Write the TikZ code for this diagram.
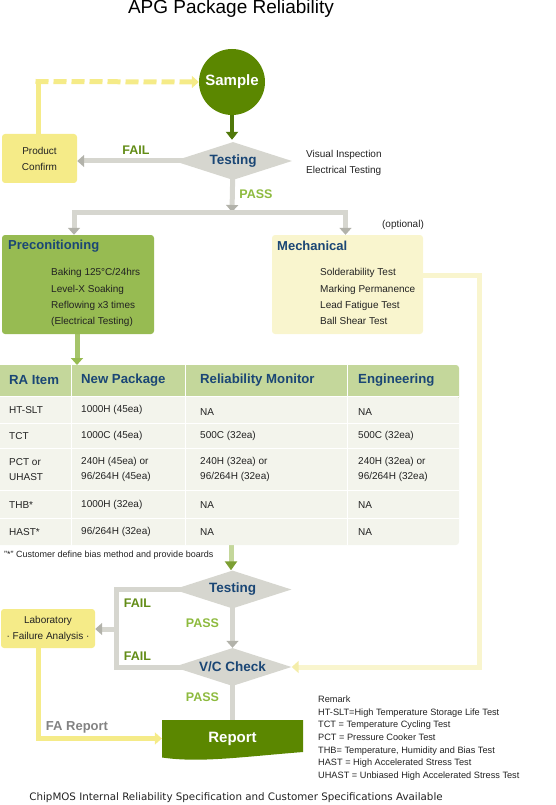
\documentclass[tikz,border=0pt]{standalone}
\usepackage{fontspec}
\setmainfont{Liberation Sans}
\newfontfamily\capfont{DejaVu Sans}
\usetikzlibrary{arrows.meta,shapes.geometric,backgrounds}

\definecolor{leafgreen}{RGB}{91,135,0}
\definecolor{stemgreen}{RGB}{80,120,10}
\definecolor{diagray}{RGB}{214,214,207}
\definecolor{headgray}{RGB}{178,178,170}
\definecolor{navy}{RGB}{26,70,117}
\definecolor{failgreen}{RGB}{98,140,22}
\definecolor{passgreen}{RGB}{141,186,62}
\definecolor{boxyellow}{RGB}{245,235,136}
\definecolor{paleyellow}{RGB}{249,245,206}
\definecolor{paletip}{RGB}{244,237,170}
\definecolor{precongreen}{RGB}{151,187,82}
\definecolor{arrowgreen}{RGB}{165,196,106}
\definecolor{headgreen}{RGB}{196,215,155}
\definecolor{bodygray}{RGB}{243,244,236}
\definecolor{textgray}{RGB}{34,34,34}
\definecolor{reportgray}{RGB}{130,130,130}

\newcommand{\fsz}[2]{\fontsize{#1}{#2}\selectfont}

\begin{document}
\begin{tikzpicture}[x=1pt,y=-1pt,
  txt/.style={inner sep=0pt, text=textgray, font=\fsz{10}{16.3}, align=left},
  notebox/.style={fill=boxyellow, rounded corners=3pt, inner sep=0pt, text=textgray, font=\fsz{10}{16}, align=center},
  decision/.style={shape=diamond, fill=diagray, aspect=3.1, minimum width=118pt, minimum height=38pt, inner sep=0pt, text=navy, font=\bfseries\fsz{13.5}{16}},
  boxtitle/.style={inner sep=0pt, text=navy, font=\bfseries\fsz{13}{16}},
  colhead/.style={anchor=west, inner sep=0pt, text=navy, font=\bfseries\fsz{13.2}{16}},
  cell/.style={txt, anchor=west, font=\fsz{10}{15.6}},
  failtxt/.style={inner sep=0pt, text=failgreen, font=\bfseries\fsz{12.5}{15}},
  passtxt/.style={inner sep=0pt, text=passgreen, font=\bfseries\fsz{12.5}{15}},
  grayline/.style={draw=diagray, line width=5pt},
  grayarrow/.style={grayline, -{Triangle[width=12pt,length=7pt,color=headgray]}},
  graybranch/.style={grayline, {Triangle[width=12pt,length=7pt,color=headgray]}-{Triangle[width=12pt,length=7pt,color=headgray]}},
  yellowarrow/.style={draw=boxyellow, line width=5pt, -{Triangle[width=12pt,length=7pt]}},
  palearrow/.style={draw=paleyellow, line width=5pt, -{Triangle[width=12pt,length=7pt,color=paletip]}}]

  \useasboundingbox (0,0) rectangle (555,805);

  % Title
  \node[inner sep=0pt, font=\fsz{19}{22}] (title) at (231,9) {APG Package Reliability};

  % Sample and first test
  \node[circle, fill=leafgreen, minimum size=66pt, inner sep=0pt, text=white, font=\bfseries\fsz{15}{18}] (sample) at (232,82) {Sample};
  \node[decision] (test1) at (233,161) {Testing};
  \node[notebox, minimum width=75pt, minimum height=49pt] (confirm) at (39.5,158.5) {Product\\Confirm};
  \node[txt, anchor=north west, font=\fsz{10}{16}] (testnote) at (306,150.3) {Visual Inspection\\Electrical Testing};
  \node[failtxt] (fail1) at (136,150) {FAIL};
  \node[passtxt] (pass1) at (256,194) {PASS};

  \coordinate (dashcorner) at (38,81.5);
  \coordinate (split) at (232,212);
  \coordinate (splitL) at (74,212);
  \coordinate (splitR) at (345.5,212);

  % Preconditioning box
  \node[fill=precongreen, rounded corners=3pt, minimum width=152pt, minimum height=99pt, inner sep=0pt] (precon) at (78,284.5) {};
  \node[boxtitle, anchor=west] (precontitle) at (8,246) {Preconitioning};
  \node[txt, anchor=north west] (preconlist) at (51,268.3) {Baking 125°C/24hrs\\Level-X Soaking\\Reflowing x3 times\\(Electrical Testing)};

  % Mechanical box
  \node[fill=paleyellow, rounded corners=3pt, minimum width=151pt, minimum height=99pt, inner sep=0pt] (mech) at (347.5,284.5) {};
  \node[boxtitle, anchor=west] (mechtitle) at (277,246) {Mechanical};
  \node[txt, anchor=north west] (mechlist) at (320,268.3) {Solderability Test\\Marking Permanence\\Lead Fatigue Test\\Ball Shear Test};
  \node[txt] (optional) at (403,225) {(optional)};

  % RA table
  \fill[headgreen, rounded corners=3pt] (-5,365) rectangle (459,400);
  \fill[bodygray, rounded corners=3pt] (-5,396) rectangle (459,545);
  \foreach \cx in {71,185.7,347}
    \draw[white, line width=1pt] (\cx,365) -- (\cx,545);
  \foreach \ry in {396,423.3,448.3,490,518.3}
    \draw[white, line width=1pt] (0,\ry) -- (459,\ry);
  \coordinate (tabletop) at (77,365);
  \coordinate (tablebottom) at (231,545);

  \node[colhead] (h1) at (9,380.5) {RA Item};
  \node[colhead] (h2) at (81,380.5) {New Package};
  \node[colhead] (h3) at (200,380.5) {Reliability Monitor};
  \node[colhead] (h4) at (358,380.5) {Engineering};

  \node[cell] (a1) at (9,410) {HT-SLT};
  \node[cell] (b1) at (81,410) {1000H (45ea)};
  \node[cell] (c1) at (200,412) {NA};
  \node[cell] (d1) at (358,412) {NA};

  \node[cell] (a2) at (9,436) {TCT};
  \node[cell] (b2) at (81,436) {1000C (45ea)};
  \node[cell] (c2) at (200,436) {500C (32ea)};
  \node[cell] (d2) at (358,436) {500C (32ea)};

  \node[cell] (a3) at (9,469.5) {PCT or\\UHAST};
  \node[cell] (b3) at (81,469.5) {240H (45ea) or\\96/264H (45ea)};
  \node[cell] (c3) at (200,469.5) {240H (32ea) or\\96/264H (32ea)};
  \node[cell] (d3) at (358,469.5) {240H (32ea) or\\96/264H (32ea)};

  \node[cell] (a4) at (9,505) {THB*};
  \node[cell] (b4) at (81,505) {1000H (32ea)};
  \node[cell] (c4) at (200,505) {NA};
  \node[cell] (d4) at (358,505) {NA};

  \node[cell] (a5) at (9,532.3) {HAST*};
  \node[cell] (b5) at (81,532.3) {96/264H (32ea)};
  \node[cell] (c5) at (200,532.3) {NA};
  \node[cell] (d5) at (358,532.3) {NA};

  \node[txt, anchor=west, font=\fsz{9}{11}] (footnote) at (4,555) {"*" Customer define bias method and provide boards};

  % Second test and V/C check
  \node[decision] (test2) at (232.5,589.5) {Testing};
  \node[decision] (vc) at (232.5,667) {V/C Check};
  \node[notebox, minimum width=94pt, minimum height=39pt] (lab) at (48,628.5) {Laboratory\\· Failure Analysis ·};
  \node[failtxt] (fail2) at (137.5,603) {FAIL};
  \node[failtxt] (fail3) at (137.5,656) {FAIL};
  \node[passtxt] (pass2) at (202.5,623) {PASS};
  \node[passtxt] (pass3) at (202.5,697) {PASS};
  \node[inner sep=0pt, text=reportgray, font=\bfseries\fsz{13}{16}] (fareport) at (77,727) {FA Report};
  \coordinate (failjoin) at (116,629);
  \coordinate (labout) at (38,648);
  \coordinate (mechout) at (423,275);
  \coordinate (rightturn) at (479,667);

  % Report
  \fill[leafgreen] (162,720) -- (303,720) -- (303,752) .. controls (240,757) and (200,763) .. (162,757.5) -- cycle;
  \node[minimum width=141pt, inner sep=0pt, text=white, font=\bfseries\fsz{15}{18}] (report) at (232.5,738.5) {Report};

  % Remarks and caption
  \node[txt, anchor=north west, font=\fsz{9.2}{12.7}] (remark) at (318,695.5) {Remark\\HT-SLT=High Temperature Storage Life Test\\TCT = Temperature Cycling Test\\PCT = Pressure Cooker Test\\THB= Temperature, Humidity and Bias Test\\HAST = High Accelerated Stress Test\\UHAST = Unbiased High Accelerated Stress Test};
  \node[inner sep=0pt, text=textgray, font=\capfont\fsz{10.3}{12}] (caption) at (236,798) {ChipMOS Internal Reliability Specification and Customer Specifications Available};

  % Connectors
  \begin{scope}[on background layer]
    \draw[boxyellow, line width=5pt] (dashcorner |- confirm.north) -- (dashcorner);
    \draw[boxyellow, line width=5pt, dash pattern=on 13pt off 5pt, -{Triangle[width=12pt,length=7pt]}] ([xshift=-2.5pt]dashcorner) -- (sample.west);
    \draw[stemgreen, line width=4pt, -{Triangle[width=12pt,length=8pt]}, shorten >=2pt] (sample.south) -- (sample.south |- test1.north);
    \draw[grayarrow] (test1.center) -- (test1.center -| confirm.east);
    \draw[grayarrow] (test1.center) -- (split);
    \draw[graybranch] (splitL |- precon.north) -- (splitL) -- (splitR) -- (splitR |- mech.north);
    \draw[arrowgreen, line width=5pt, -{Triangle[width=12pt,length=7pt,color=precongreen]}] (precon.south -| tabletop) -- (tabletop);
    \draw[headgreen, line width=5pt, -{Triangle[width=12pt,length=9pt,color=leafgreen!80]}] (tablebottom) -- (tablebottom |- test2.north);
    \draw[palearrow] (mechout) -| (rightturn) -- (vc.east);
    \draw[grayline] (test2.center) -| (failjoin);
    \draw[grayline] (vc.center) -| (failjoin);
    \draw[grayarrow] (failjoin) -- (failjoin -| lab.east);
    \draw[grayarrow] (test2.center) -- (vc.north);
    \draw[grayarrow] (vc.center) -- (vc.center |- report.north);
    \draw[yellowarrow] (labout) |- (report.west);
  \end{scope}
\end{tikzpicture}
\end{document}
